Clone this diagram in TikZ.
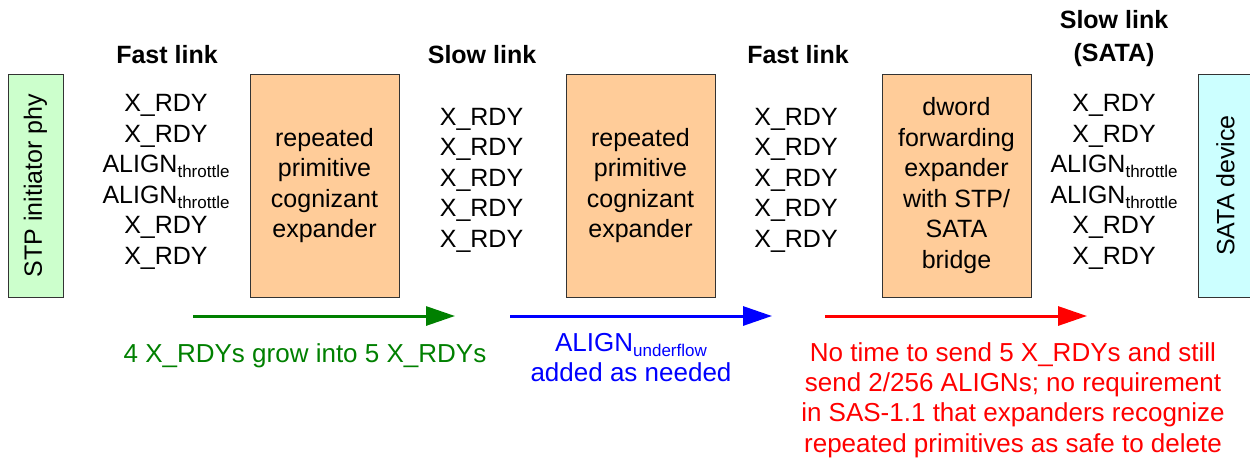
\documentclass[tikz,border=0pt]{standalone}
\usepackage{fontspec}
\setmainfont{Liberation Sans}
\usetikzlibrary{arrows.meta, positioning}
\definecolor{ink}{HTML}{333333}
\definecolor{phybg}{HTML}{CCFFCC}
\definecolor{expbg}{HTML}{FFCC99}
\definecolor{devbg}{HTML}{CCFFFF}
\definecolor{growgreen}{HTML}{008000}
\definecolor{fillblue}{HTML}{0000FF}
\definecolor{warnred}{HTML}{FF0000}
\newcommand{\subtxt}[1]{\raisebox{-5pt}{\fontsize{17}{17}\selectfont #1}}
\tikzset{
  txt/.style={font=\fontsize{25}{30.5}\selectfont, align=center, inner sep=0pt},
  note/.style={txt, font=\fontsize{26}{30.3}\selectfont},
  head/.style={txt, font=\fontsize{25}{33}\selectfont\bfseries},
  box/.style={txt, draw=ink, line width=1pt},
  expander/.style={box, fill=expbg, minimum width=149pt, minimum height=223pt},
  % rotated, so width and height swap
  endpoint/.style={box, fill=#1, rotate=90, minimum width=223pt, minimum height=55pt},
  arrow/.style={draw=#1, line width=3pt, -{Triangle[length=29pt, width=19pt]}}
}

\begin{document}
\begin{tikzpicture}[x=1pt, y=-1pt]
\useasboundingbox (0,0) rectangle (1250,459);

% end points and expanders
\node[endpoint=phybg] (phy) at (35.5,185.5) {STP initiator phy};
\node[expander] (exp1) at (324.5,185.5) {repeated\\primitive\\cognizant\\expander};
\node[expander] (exp2) at (640.5,185.5) {repeated\\primitive\\cognizant\\expander};
\node[expander] (bridge) at (956.5,185.5) {dword\\forwarding\\expander\\with STP/\\SATA\\bridge};
\node[endpoint=devbg] (device) at (1225.5,185.5) {SATA device};

% link headers
\node[head, anchor=base] (hfast1) at (167,63) {Fast link};
\node[head, anchor=base] (hslow1) at (482,63) {Slow link};
\node[head, anchor=base] (hfast2) at (798,63) {Fast link};
\node[head] (hslow2) at (1114,39) {Slow link\\(SATA)};

% primitive streams
\node[txt] (fast1) at (166,182) {X\_RDY\\X\_RDY\\ALIGN\subtxt{throttle}\\ALIGN\subtxt{throttle}\\X\_RDY\\X\_RDY};
\node[txt] (slow1) at (481.5,180) {X\_RDY\\X\_RDY\\X\_RDY\\X\_RDY\\X\_RDY};
\node[txt] (fast2) at (796,180) {X\_RDY\\X\_RDY\\X\_RDY\\X\_RDY\\X\_RDY};
\node[txt] (slow2) at (1114,182) {X\_RDY\\X\_RDY\\ALIGN\subtxt{throttle}\\ALIGN\subtxt{throttle}\\X\_RDY\\X\_RDY};

% arrows
\coordinate (g0) at (193,316);
\coordinate (g1) at (455,316);
\coordinate (b0) at (510,316);
\coordinate (b1) at (772,316);
\coordinate (r0) at (825,316);
\coordinate (r1) at (1087,316);
\draw[arrow=growgreen] (g0) -- (g1);
\draw[arrow=fillblue] (b0) -- (b1);
\draw[arrow=warnred] (r0) -- (r1);

% notes
\node[note, text=growgreen, anchor=base] (grownote) at (305,362) {4 X\_RDYs grow into 5 X\_RDYs};
\node[note, text=fillblue] (fillnote) at (631,357.5) {ALIGN\subtxt{underflow}\\added as needed};
\node[note, text=warnred] (warnnote) at (1013,400) {No time to send 5 X\_RDYs and still\\send 2/256 ALIGNs; no requirement\\in SAS-1.1 that expanders recognize\\repeated primitives as safe to delete};

\end{tikzpicture}
\end{document}
